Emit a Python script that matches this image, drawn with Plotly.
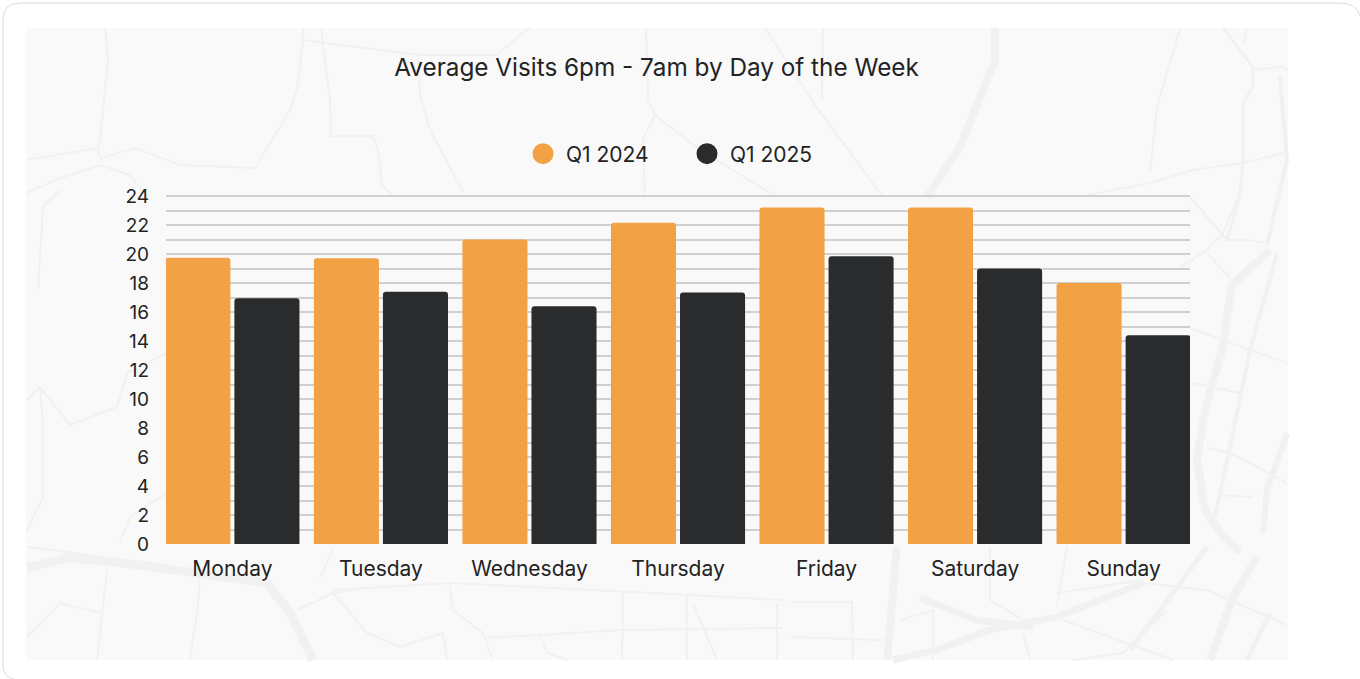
import plotly.graph_objects as go

days = ["Monday", "Tuesday", "Wednesday", "Thursday", "Friday", "Saturday", "Sunday"]
q1_2024 = [19.75, 19.7, 21.0, 22.15, 23.2, 23.2, 18.0]
q1_2025 = [16.95, 17.4, 16.4, 17.35, 19.85, 19.0, 14.4]
series_names = ["Q1 2024", "Q1 2025"]
title_text = "Average Visits 6pm - 7am by Day of the Week"

W, H = 1360, 679
L, R, T, B = 166, 170, 195, 135
FONT = "Inter"
INK = "#232323"
ORANGE = "#F2A144"
DARK = "#2A2B2D"

# decorative map background, traced in page pixels
roads = [
    (2, [(105,28),(108,60),(100,140),(98,150),(101,160)]),
    (2, [(26,160),(98,148)]),
    (2, [(101,158),(135,148),(180,165),(255,168),(290,110),(297,90),(303,40),(303,28)]),
    (2, [(26,193),(60,178),(85,170),(101,165),(130,175),(145,195)]),
    (2, [(322,28),(322,40),(330,100),(331,136),(373,136),(378,150),(382,185),(395,198)]),
    (2, [(303,40),(420,55),(497,55),(520,35),(530,28)]),
    (2, [(418,55),(420,95),(430,130),(465,195)]),
    (2, [(646,28),(648,100),(655,115),(700,150),(777,197)]),
    (2, [(655,115),(643,140),(645,198)]),
    (2, [(765,28),(815,105),(883,197)]),
    (2, [(823,28),(822,100)]),
    (8, [(995,28),(995,60),(960,147),(927,197)]),
    (2, [(1180,28),(1157,107),(1150,173)]),
    (2, [(1077,197),(1150,183),(1193,170),(1243,163),(1287,152)]),
    (3, [(1223,28),(1253,67),(1253,87),(1243,103),(1243,163),(1240,195),(1227,240)]),
    (2, [(1253,70),(1280,67),(1288,70)]),
    (2, [(1247,28),(1243,43)]),
    (4, [(1280,77),(1287,160),(1267,245)]),
    (2, [(1190,197),(1227,240),(1247,240),(1267,243)]),
    (8, [(1270,250),(1232,285),(1222,350),(1205,410),(1197,460),(1205,510),(1222,535),(1240,552)]),
    (4, [(1277,253),(1250,350),(1223,480),(1215,517)]),
    (2, [(1190,328),(1250,350),(1287,363)]),
    (2, [(1193,383),(1240,393)]),
    (2, [(1207,448),(1230,453),(1263,470),(1287,483)]),
    (6, [(1287,433),(1267,490),(1263,533)]),
    (2, [(1218,495),(1253,497)]),
    (2, [(1207,253),(1230,278)]),
    (2, [(1180,267),(1207,250),(1223,233),(1237,200)]),
    (9, [(27,568),(67,558),(117,562),(267,583),(290,613),(313,660)]),
    (2, [(27,547),(67,552),(117,560)]),
    (2, [(107,570),(97,660)]),
    (2, [(27,637),(60,603),(100,613)]),
    (2, [(200,580),(197,613),(190,660)]),
    (2, [(297,610),(333,593),(367,587)]),
    (2, [(333,593),(367,633),(400,647),(443,633),(447,660)]),
    (2, [(320,577),(333,550)]),
    (2, [(333,590),(450,583),(633,592),(783,600)]),
    (2, [(450,587),(453,610),(483,633),(492,658)]),
    (2, [(483,638),(540,635),(620,630),(783,628)]),
    (2, [(540,635),(547,653),(567,660)]),
    (2, [(623,593),(622,660)]),
    (2, [(687,597),(687,660)]),
    (2, [(693,603),(717,660)]),
    (2, [(777,603),(777,660)]),
    (2, [(790,602),(852,602),(853,660)]),
    (2, [(790,637),(883,640)]),
    (8, [(897,547),(887,660)]),
    (7, [(920,598),(977,620),(1033,627)]),
    (7, [(1143,583),(1057,617),(990,630),(937,650),(893,660)]),
    (2, [(1023,633),(1030,660)]),
    (2, [(900,620),(933,610),(933,660)]),
    (2, [(990,547),(990,600),(1023,620)]),
    (2, [(1067,547),(1057,607)]),
    (2, [(1057,593),(1143,580)]),
    (8, [(1257,557),(1233,597),(1210,660)]),
    (5, [(1207,547),(1170,597),(1130,650)]),
    (2, [(1143,583),(1207,590),(1287,625)]),
    (2, [(1063,620),(1173,660)]),
    (2, [(1167,610),(1123,653),(1073,660)]),
    (5, [(1270,613),(1247,660)]),
    (2, [(27,400),(40,387),(70,425),(117,407),(127,373),(167,353)]),
    (2, [(40,387),(43,427),(43,497),(27,530)]),
    (2, [(120,543),(130,517),(167,493)]),
    (2, [(60,190),(43,207),(38,290)]),
]


def fx(px):
    return (px - L) / (W - L - R)


def fy(py):
    return 1 - (py - T) / (H - T - B)


def box(x0, y0, x1, y1, **kw):
    return dict(type="rect", xref="paper", yref="paper", x0=fx(x0), x1=fx(x1),
                y0=fy(y0), y1=fy(y1), layer="below", **kw)


shapes = [
    box(26, 28, 1288, 660, fillcolor="#F9F9F9", line_width=0),
]
for width, pts in roads:
    path = "M " + " L ".join(f"{fx(x):.5f} {fy(y):.5f}" for x, y in pts)
    shapes.append(dict(type="path", xref="paper", yref="paper", path=path, layer="below",
                       line=dict(color="#F1F1F1", width=width)))
# card outline
shapes.append(dict(type="path", xref="paper", yref="paper", layer="below",
                   path=(f"M {fx(14)} {fy(679)} Q {fx(3)} {fy(677)} {fx(3)} {fy(665)} "
                         f"L {fx(3)} {fy(20)} "
                         f"Q {fx(3)} {fy(3)} {fx(20)} {fy(3)} L {fx(1340)} {fy(3)} "
                         f"Q {fx(1357)} {fy(3)} {fx(1360)} {fy(16)}"),
                   line=dict(color="#DADADA", width=1)))

fig = go.Figure()
for name, values, color in zip(series_names, [q1_2024, q1_2025], [ORANGE, DARK]):
    fig.add_bar(x=days, y=values, name=name, marker=dict(color=color, line_width=0),
                showlegend=False, legendgroup=name)
for name, color in zip(series_names, [ORANGE, DARK]):
    fig.add_scatter(x=[days[0]], y=[None], name=name, mode="markers", legendgroup=name,
                    marker=dict(color=color, size=16, line=dict(color=color, width=5)))

fig.update_layout(
    width=W, height=H, autosize=False,
    margin=dict(l=L, r=R, t=T, b=B, pad=0),
    paper_bgcolor="white", plot_bgcolor="rgba(0,0,0,0)",
    font=dict(family=FONT, color=INK, size=19),
    barmode="group", bargap=0.07, bargroupgap=0.058, barcornerradius=3,
    title=dict(text=title_text, x=656.5 / W, xanchor="center", xref="container",
               y=1 - 67 / H, yanchor="middle", font=dict(family=FONT, size=24.3, color=INK)),
    legend=dict(orientation="h", x=fx(520), xanchor="left", y=fy(154), yanchor="middle",
                bgcolor="rgba(0,0,0,0)", font=dict(size=21, color=INK),
                itemclick=False, itemdoubleclick=False, itemsizing="trace", itemwidth=36,
                entrywidth=113, entrywidthmode="pixels", traceorder="normal"),
    xaxis=dict(type="category", categoryorder="array", categoryarray=days,
               range=[-0.447, 6.447], showgrid=False, zeroline=False, showline=False,
               ticks="", ticklabelstandoff=10, tickfont=dict(size=21)),
    yaxis=dict(range=[0, 24.07], showgrid=True, gridcolor="#D0D0D0", gridwidth=1.5,
               zeroline=False, showline=False, ticks="", ticklabelstandoff=16,
               tickmode="array", tickvals=list(range(0, 25)),
               ticktext=[str(v) if v % 2 == 0 else "" for v in range(0, 25)],
               tickfont=dict(size=19)),
    shapes=shapes,
    showlegend=True,
)
fig.write_html("out.html", config={"displayModeBar": False},
               post_script="document.body.style.margin='0';document.documentElement.style.overflow='hidden';")
